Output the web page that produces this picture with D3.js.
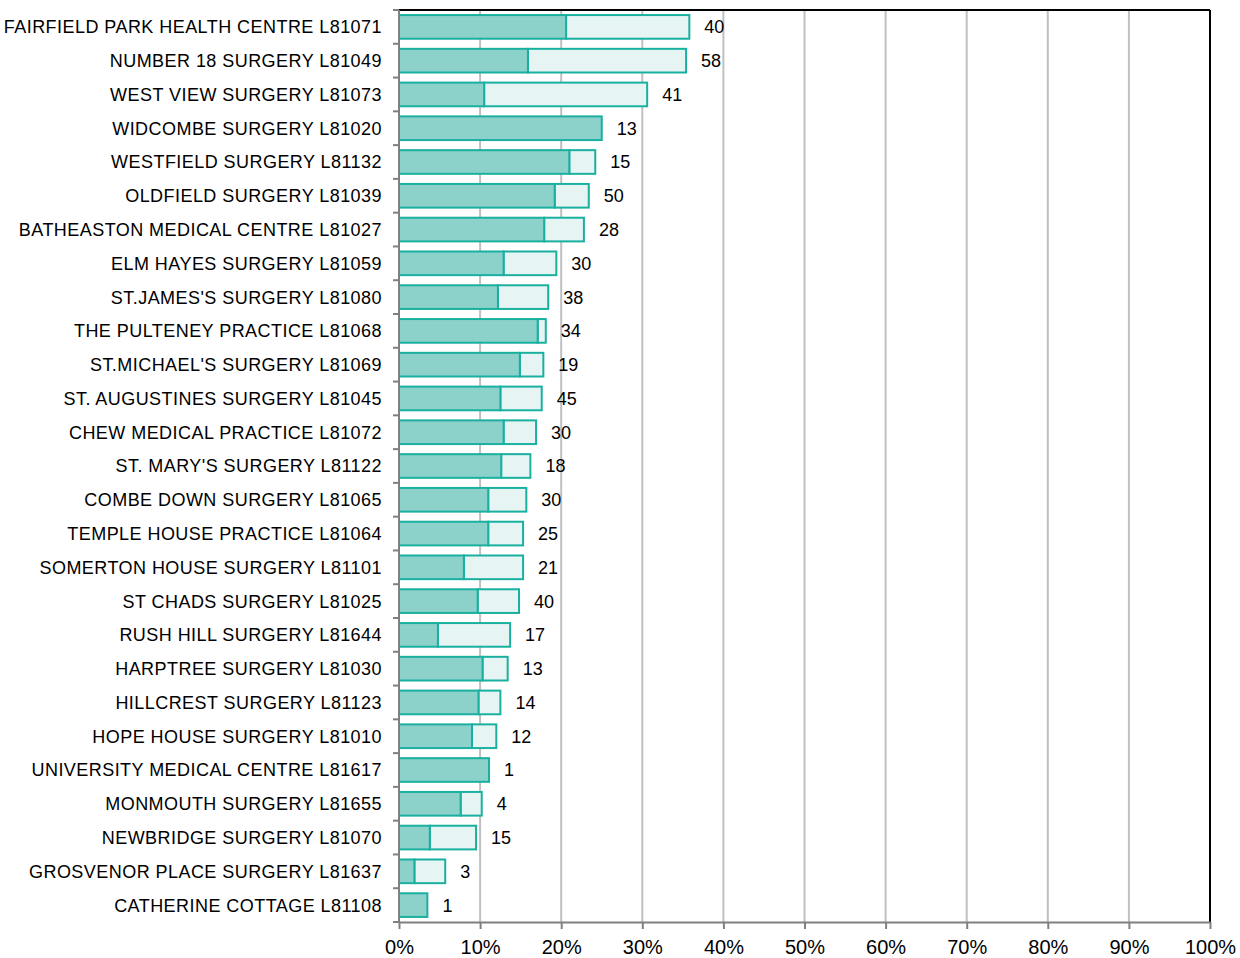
<!DOCTYPE html>
<html><head><meta charset="utf-8">
<script src="https://cdn.jsdelivr.net/npm/d3@7"></script>
<style>body{margin:0;background:#fff}svg{display:block}text{font-family:"Liberation Sans",Arial,sans-serif;fill:#000}</style>
</head><body><svg id="c" width="1240" height="958"></svg>
<script>
const categories = ["FAIRFIELD PARK HEALTH CENTRE L81071","NUMBER 18 SURGERY L81049","WEST VIEW SURGERY L81073","WIDCOMBE SURGERY L81020","WESTFIELD SURGERY L81132","OLDFIELD SURGERY L81039","BATHEASTON MEDICAL CENTRE L81027","ELM HAYES SURGERY L81059","ST.JAMES'S SURGERY L81080","THE PULTENEY PRACTICE L81068","ST.MICHAEL'S SURGERY L81069","ST. AUGUSTINES SURGERY L81045","CHEW MEDICAL PRACTICE L81072","ST. MARY'S SURGERY L81122","COMBE DOWN SURGERY L81065","TEMPLE HOUSE PRACTICE L81064","SOMERTON HOUSE SURGERY L81101","ST CHADS SURGERY L81025","RUSH HILL SURGERY L81644","HARPTREE SURGERY L81030","HILLCREST SURGERY L81123","HOPE HOUSE SURGERY L81010","UNIVERSITY MEDICAL CENTRE L81617","MONMOUTH SURGERY L81655","NEWBRIDGE SURGERY L81070","GROSVENOR PLACE SURGERY L81637","CATHERINE COTTAGE L81108"];
const darkPct  = [20.6,15.9,10.5,25.0,21.0,19.2,17.9,12.9,12.2,17.1,14.9,12.5,12.9,12.6,11.0,11.0,8.0,9.7,4.8,10.3,9.8,9.0,11.1,7.6,3.8,1.9,3.5];
const totalPct = [35.8,35.4,30.6,25.0,24.2,23.4,22.8,19.4,18.4,18.1,17.8,17.6,16.9,16.2,15.7,15.3,15.3,14.8,13.7,13.4,12.5,12.0,11.1,10.2,9.5,5.7,3.5];
const counts   = [40,58,41,13,15,50,28,30,38,34,19,45,30,18,30,25,21,40,17,13,14,12,1,4,15,3,1];
const xTicks = [0,10,20,30,40,50,60,70,80,90,100];

const svg = d3.select("#c");
const L=399, R=1210, T=10, B=922;
const x = d3.scaleLinear().domain([0,100]).range([L,R]);
const y = d3.scaleBand().domain(categories).range([T,B]).paddingInner(0.24).paddingOuter(0.12);
const stroke="#1ab0a0", darkFill="#8cd1ca", lightFill="#e6f4f3", grid="#c0c0c0", axisC="#808080";

// gridlines
svg.append("g").selectAll("line").data(xTicks.filter(d=>d>0&&d<100)).join("line")
  .attr("x1",d=>x(d)).attr("x2",d=>x(d)).attr("y1",T).attr("y2",B)
  .attr("stroke",grid).attr("stroke-width",2);

// bars
const rows = categories.map((c,i)=>({c,d:darkPct[i],t:totalPct[i],n:counts[i]}));
const g = svg.append("g");
g.selectAll("rect.l").data(rows.filter(r=>r.t>r.d)).join("rect").attr("class","l")
  .attr("x",r=>x(r.d)).attr("width",r=>x(r.t)-x(r.d))
  .attr("y",r=>y(r.c)+1).attr("height",y.bandwidth()-2)
  .attr("fill",lightFill).attr("stroke",stroke).attr("stroke-width",2);
g.selectAll("rect.d").data(rows).join("rect").attr("class","d")
  .attr("x",x(0)).attr("width",r=>x(r.d)-x(0))
  .attr("y",r=>y(r.c)+1).attr("height",y.bandwidth()-2)
  .attr("fill",darkFill).attr("stroke",stroke).attr("stroke-width",2);

// value labels
svg.append("g").selectAll("text").data(rows).join("text")
  .attr("x",r=>x(r.t)+15).attr("y",r=>y(r.c)+y.bandwidth()/2).attr("dy","0.36em")
  .attr("font-size",18).text(r=>r.n);

// borders
svg.append("line").attr("x1",L).attr("x2",R).attr("y1",T).attr("y2",T).attr("stroke","#000").attr("stroke-width",2);
svg.append("line").attr("x1",R).attr("x2",R).attr("y1",T).attr("y2",B).attr("stroke","#000").attr("stroke-width",2);

// left axis
const bounds = d3.range(categories.length+1).map(i=>T+i*(B-T)/categories.length);
const la = svg.append("g");
la.append("line").attr("x1",L).attr("x2",L).attr("y1",T).attr("y2",B).attr("stroke",axisC).attr("stroke-width",2);
la.selectAll("line.t").data(bounds).join("line").attr("class","t")
  .attr("x1",L-6).attr("x2",L).attr("y1",d=>d).attr("y2",d=>d).attr("stroke",axisC).attr("stroke-width",2);
la.selectAll("text").data(categories).join("text")
  .attr("x",382).attr("y",d=>y(d)+y.bandwidth()/2).attr("dy","0.36em")
  .attr("text-anchor","end").attr("font-size",18).style("letter-spacing","0.45px").text(d=>d);

// bottom axis
const xa = svg.append("g").attr("transform",`translate(0,${B})`)
  .call(d3.axisBottom(x).tickValues(xTicks).tickFormat(d=>d+"%").tickSize(7).tickSizeOuter(0));
xa.select(".domain").attr("stroke",axisC).attr("stroke-width",2);
xa.selectAll(".tick line").attr("stroke",axisC).attr("stroke-width",2);
xa.selectAll(".tick text").attr("font-size",20).attr("dy","1.1em").attr("fill","#000")
  .style("font-family",'"Liberation Sans",Arial,sans-serif');
</script></body></html>
